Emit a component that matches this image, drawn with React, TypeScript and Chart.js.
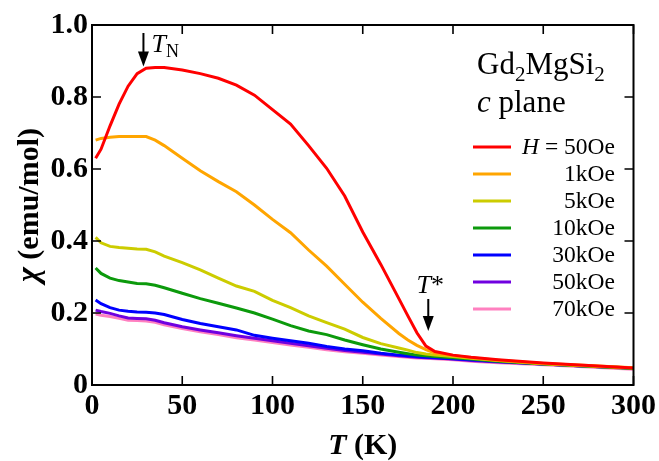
import { useEffect, useRef } from 'react';
import { Chart, registerables } from 'chart.js';

Chart.register(...registerables);

// Temperature grid (K)
const temperatures = [2, 5, 10, 15, 20, 25, 30, 35, 40, 50, 60, 70, 80, 90, 100, 110, 120, 130, 140, 150, 160, 170, 175, 180, 185, 190, 200, 210, 225, 250, 275, 300];

// Susceptibility chi (emu/mol) per field
const chi50Oe = [0.63, 0.655, 0.72, 0.78, 0.83, 0.865, 0.88, 0.882, 0.882, 0.875, 0.865, 0.852, 0.833, 0.805, 0.765, 0.725, 0.665, 0.602, 0.525, 0.425, 0.335, 0.24, 0.192, 0.145, 0.108, 0.093, 0.083, 0.077, 0.07, 0.061, 0.054, 0.047];
const chi1kOe = [0.68, 0.685, 0.688, 0.69, 0.69, 0.69, 0.69, 0.68, 0.665, 0.63, 0.595, 0.565, 0.537, 0.5, 0.46, 0.423, 0.375, 0.33, 0.28, 0.23, 0.185, 0.143, 0.125, 0.11, 0.098, 0.089, 0.082, 0.076, 0.069, 0.06, 0.054, 0.048];
const chi5kOe = [0.41, 0.395, 0.385, 0.382, 0.38, 0.378, 0.377, 0.37, 0.358, 0.34, 0.32, 0.297, 0.275, 0.26, 0.235, 0.215, 0.192, 0.173, 0.155, 0.132, 0.115, 0.103, 0.097, 0.09, 0.086, 0.083, 0.079, 0.074, 0.068, 0.059, 0.053, 0.047];
const chi10kOe = [0.325, 0.31, 0.297, 0.29, 0.286, 0.282, 0.281, 0.277, 0.27, 0.255, 0.24, 0.227, 0.214, 0.2, 0.183, 0.165, 0.15, 0.14, 0.125, 0.112, 0.1, 0.091, 0.087, 0.083, 0.081, 0.079, 0.076, 0.072, 0.066, 0.058, 0.052, 0.046];
const chi30kOe = [0.236, 0.226, 0.215, 0.208, 0.205, 0.203, 0.202, 0.2, 0.196, 0.182, 0.171, 0.162, 0.153, 0.138, 0.13, 0.123, 0.116, 0.107, 0.1, 0.095, 0.088, 0.083, 0.081, 0.079, 0.077, 0.076, 0.073, 0.07, 0.065, 0.058, 0.052, 0.047];
const chi50kOe = [0.208, 0.204, 0.199, 0.192, 0.186, 0.185, 0.184, 0.18, 0.173, 0.162, 0.153, 0.145, 0.137, 0.13, 0.123, 0.116, 0.109, 0.102, 0.096, 0.091, 0.086, 0.081, 0.079, 0.077, 0.076, 0.075, 0.072, 0.068, 0.064, 0.058, 0.052, 0.047];
const chi70kOe = [0.197, 0.194, 0.19, 0.185, 0.18, 0.179, 0.178, 0.174, 0.167, 0.157, 0.148, 0.14, 0.131, 0.125, 0.118, 0.111, 0.105, 0.098, 0.092, 0.088, 0.083, 0.079, 0.077, 0.075, 0.074, 0.073, 0.07, 0.066, 0.062, 0.056, 0.05, 0.044];

const seriesValues = [chi50Oe, chi1kOe, chi5kOe, chi10kOe, chi30kOe, chi50kOe, chi70kOe];
const seriesLabels = ['50Oe', '1kOe', '5kOe', '10kOe', '30kOe', '50kOe', '70kOe'];
const seriesColors = ['#ff0000', '#ffa500', '#cccc00', '#0c9a0c', '#0000ff', '#7000e0', '#ff80c0'];

const xTickMin = 0, xTickMax = 300, xTickStep = 50;
const yTickMin = 0, yTickMax = 1.0, yTickStep = 0.2;

// annotation positions (data coordinates)
const tN = { T: 28.5, chi: 0.885 };
const tStar = { T: 186.3, chi: 0.15 };

const SERIF = '"Liberation Serif", "Times New Roman", serif';

type Part = { text: string; font: string; dy?: number };

function richWidth(ctx: CanvasRenderingContext2D, parts: Part[]) {
  let w = 0;
  for (const p of parts) { ctx.font = p.font; w += ctx.measureText(p.text).width; }
  return w;
}
function drawRich(ctx: CanvasRenderingContext2D, parts: Part[], x: number, y: number, align: 'left' | 'center' | 'right') {
  const w = richWidth(ctx, parts);
  let cx = align === 'left' ? x : align === 'center' ? x - w / 2 : x - w;
  ctx.textAlign = 'left';
  for (const p of parts) {
    ctx.font = p.font;
    ctx.fillText(p.text, cx, y + (p.dy || 0));
    cx += ctx.measureText(p.text).width;
  }
}
function drawArrow(ctx: CanvasRenderingContext2D, x: number, yTop: number, yTip: number) {
  const head = 15, hw = 5.5;
  ctx.beginPath();
  ctx.lineWidth = 2;
  ctx.moveTo(x, yTop);
  ctx.lineTo(x, yTip - head + 2);
  ctx.stroke();
  ctx.beginPath();
  ctx.moveTo(x - hw, yTip - head);
  ctx.lineTo(x + hw, yTip - head);
  ctx.lineTo(x, yTip);
  ctx.closePath();
  ctx.fill();
}

const decorPlugin = {
  id: 'decor',
  afterDatasetsDraw(chart: any) {
    const { ctx, chartArea: a, scales } = chart;
    const xs = scales.x, ys = scales.y;
    ctx.save();
    ctx.strokeStyle = '#000';
    ctx.fillStyle = '#000';
    ctx.lineWidth = 2;
    ctx.strokeRect(a.left, a.top, a.right - a.left, a.bottom - a.top);
    const L = 9;
    ctx.lineWidth = 1.6;
    ctx.beginPath();
    for (const t of xs.ticks) {
      const px = xs.getPixelForValue(t.value);
      ctx.moveTo(px, a.bottom); ctx.lineTo(px, a.bottom - L);
      ctx.moveTo(px, a.top); ctx.lineTo(px, a.top + L);
    }
    for (const t of ys.ticks) {
      const py = ys.getPixelForValue(t.value);
      ctx.moveTo(a.left, py); ctx.lineTo(a.left + L, py);
      ctx.moveTo(a.right, py); ctx.lineTo(a.right - L, py);
    }
    ctx.stroke();

    // axis titles
    ctx.textBaseline = 'alphabetic';
    drawRich(ctx, [
      { text: 'T', font: `italic bold 30px ${SERIF}` },
      { text: ' (K)', font: `bold 30px ${SERIF}` },
    ], (a.left + a.right) / 2, 454, 'center');

    ctx.save();
    ctx.translate(38, (a.top + a.bottom) / 2);
    ctx.rotate(-Math.PI / 2);
    drawRich(ctx, [
      { text: 'χ', font: `italic bold 32px ${SERIF}` },
      { text: ' (emu/mol)', font: `bold 30px ${SERIF}` },
    ], 0, 0, 'center');
    ctx.restore();

    // compound label
    drawRich(ctx, [
      { text: 'Gd', font: `31px ${SERIF}` },
      { text: '2', font: `21px ${SERIF}`, dy: 7 },
      { text: 'MgSi', font: `31px ${SERIF}` },
      { text: '2', font: `21px ${SERIF}`, dy: 7 },
    ], 477, 74, 'left');
    drawRich(ctx, [
      { text: 'c', font: `italic 31px ${SERIF}` },
      { text: ' plane', font: `31px ${SERIF}` },
    ], 477, 112, 'left');

    // legend
    const ds = chart.data.datasets;
    ctx.textBaseline = 'middle';
    ds.forEach((d: any, i: number) => {
      const ly = 147 + i * 27;
      ctx.strokeStyle = d.borderColor;
      ctx.lineWidth = 3;
      ctx.beginPath();
      ctx.moveTo(473, ly); ctx.lineTo(511, ly);
      ctx.stroke();
      ctx.fillStyle = '#000';
      const parts: Part[] = i === 0
        ? [{ text: 'H', font: `italic 23.5px ${SERIF}` }, { text: ' = ' + d.label, font: `23.5px ${SERIF}` }]
        : [{ text: d.label, font: `23.5px ${SERIF}` }];
      drawRich(ctx, parts, 615, ly + 1, 'right');
    });

    // annotations
    ctx.strokeStyle = '#000';
    ctx.fillStyle = '#000';
    ctx.textBaseline = 'alphabetic';
    const nx = xs.getPixelForValue(tN.T);
    const ny = ys.getPixelForValue(tN.chi);
    drawArrow(ctx, nx, a.top + 8, ny);
    drawRich(ctx, [
      { text: 'T', font: `italic 26px ${SERIF}` },
      { text: 'N', font: `18px ${SERIF}`, dy: 5 },
    ], nx + 8, 52, 'left');

    const sx = xs.getPixelForValue(tStar.T);
    const sy = ys.getPixelForValue(tStar.chi);
    drawArrow(ctx, sx, sy - 32, sy);
    drawRich(ctx, [
      { text: 'T', font: `italic 26px ${SERIF}` },
      { text: '*', font: `26px ${SERIF}` },
    ], sx + 2, sy - 38, 'center');
    ctx.restore();
  },
};

export default function App() {
  const ref = useRef<HTMLCanvasElement | null>(null);
  useEffect(() => {
    if (!ref.current) return;
    const chart = new Chart(ref.current, {
      type: 'line',
      data: {
        datasets: seriesValues.map((vals, i) => ({
          label: seriesLabels[i],
          data: temperatures.map((t, j) => ({ x: t, y: vals[j] })),
          borderColor: seriesColors[i],
          backgroundColor: seriesColors[i],
          borderWidth: 3,
          pointRadius: 0,
          tension: 0,
          fill: false,
        })),
      },
      options: {
        responsive: false,
        animation: false,
        layout: { padding: { left: 0, right: 25, top: 25, bottom: 0 } },
        plugins: { legend: { display: false }, tooltip: { enabled: false } },
        scales: {
          x: {
            type: 'linear',
            min: xTickMin,
            max: xTickMax,
            grid: { display: false, drawTicks: false },
            border: { display: false },
            ticks: {
              stepSize: xTickStep,
              padding: 3,
              color: '#000',
              maxRotation: 0,
              font: { family: SERIF, weight: 'bold', size: 30 },
            },
            afterFit: (s: any) => { s.height = 76; },
          },
          y: {
            type: 'linear',
            min: yTickMin,
            max: yTickMax,
            grid: { display: false, drawTicks: false },
            border: { display: false },
            ticks: {
              stepSize: yTickStep,
              padding: 4,
              color: '#000',
              font: { family: SERIF, weight: 'bold', size: 30 },
              callback: (v: any) => (Number(v) === 0 ? '0' : Number(v).toFixed(1)),
            },
            afterFit: (s: any) => { s.width = 92; },
          },
        },
      } as any,
      plugins: [decorPlugin],
    });
    return () => chart.destroy();
  }, []);
  return (
    <div style={{ position: 'absolute', left: 0, top: 0, width: 659, height: 461, background: '#fff' }}>
      <canvas ref={ref} width={659} height={461} style={{ display: 'block' }} />
    </div>
  );
}
